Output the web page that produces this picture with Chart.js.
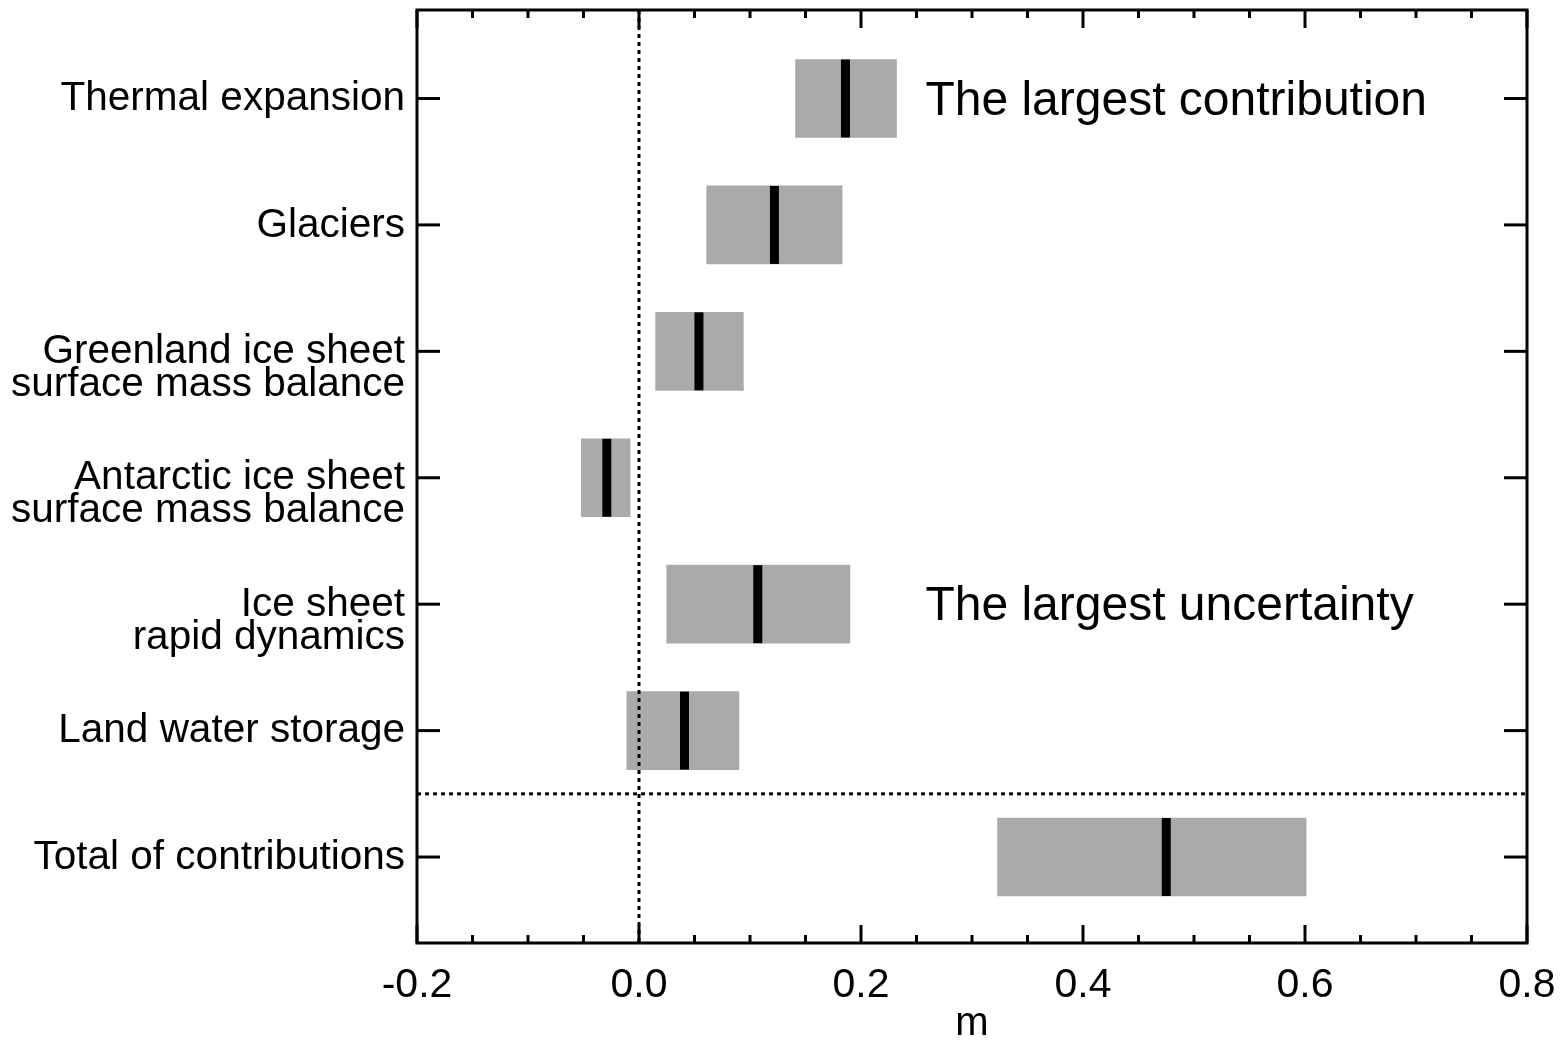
<!DOCTYPE html>
<html>
<head>
<meta charset="utf-8">
<script src="https://cdn.jsdelivr.net/npm/chart.js@4.4.1/dist/chart.umd.min.js"></script>
<style>
  html, body { margin: 0; padding: 0; background: #fff; }
  #wrap { width: 1568px; height: 1044px; }
</style>
</head>
<body>
<div id="wrap"><canvas id="c" width="1568" height="1044"></canvas></div>
<script>
// Contributions to sea-level rise (m): likely range and median per component
const categories = [
  ['Thermal expansion'],
  ['Glaciers'],
  ['Greenland ice sheet', 'surface mass balance'],
  ['Antarctic ice sheet', 'surface mass balance'],
  ['Ice sheet', 'rapid dynamics'],
  ['Land water storage'],
  ['Total of contributions']
];
const rowPositions = [1, 2, 3, 4, 5, 6, 7];
const lowValues    = [0.141, 0.061, 0.015, -0.052, 0.025, -0.011, 0.323];
const highValues   = [0.232, 0.183, 0.094, -0.008, 0.190,  0.090, 0.601];
const medianValues = [0.186, 0.122, 0.054, -0.029, 0.107,  0.041, 0.475];
const xTickValues  = [-0.2, 0.0, 0.2, 0.4, 0.6, 0.8];
const notes = [
  { text: 'The largest contribution', x: 0.258, row: 1 },
  { text: 'The largest uncertainty',  x: 0.258, row: 5 }
];
const totalSeparator = 6.5;

const FONT = '"Liberation Sans", Arial, Helvetica, sans-serif';

const rangeData  = rowPositions.map((r, i) => ({ x: [lowValues[i], highValues[i]], y: r }));
const medianData = rowPositions.map((r, i) => ({ x: medianValues[i], y: r }));

// Frame, inward tick marks, dotted reference lines and notes
const framePlugin = {
  id: 'frame',
  afterDatasetsDraw(chart) {
    const { ctx, chartArea: a, scales: { x, y } } = chart;
    const seg = (x1, y1, x2, y2) => { ctx.beginPath(); ctx.moveTo(x1, y1); ctx.lineTo(x2, y2); ctx.stroke(); };
    ctx.save();
    ctx.strokeStyle = '#000';
    ctx.lineWidth = 3;

    // dotted zero line and separator above the total
    ctx.setLineDash([4, 4]);
    const x0 = x.getPixelForValue(0);
    seg(x0, a.top, x0, a.bottom);
    const ys = y.getPixelForValue(totalSeparator);
    seg(a.left, ys, a.right, ys);
    ctx.setLineDash([]);

    // x ticks: major every 0.2, minor every 0.05, on bottom and top
    for (let k = 0; k <= 20; k++) {
      const v = x.min + k * 0.05;
      const px = x.getPixelForValue(v);
      const len = (k % 4 === 0) ? 18 : 8;
      seg(px, a.bottom, px, a.bottom - len);
      seg(px, a.top, px, a.top + len);
    }
    // y ticks on both sides
    y.ticks.forEach(t => {
      const py = y.getPixelForValue(t.value);
      seg(a.left, py, a.left + 23, py);
      seg(a.right, py, a.right - 23, py);
    });

    ctx.strokeRect(a.left, a.top, a.right - a.left, a.bottom - a.top);

    ctx.fillStyle = '#000';
    ctx.font = '48px ' + FONT;
    ctx.textBaseline = 'middle';
    ctx.textAlign = 'left';
    notes.forEach(n => ctx.fillText(n.text, x.getPixelForValue(n.x), y.getPixelForValue(n.row) + 3));
    ctx.restore();
  }
};

const noEdgePadding = s => { s.paddingLeft = 0; s.paddingRight = 0; s.paddingTop = 0; s.paddingBottom = 0; };

new Chart(document.getElementById('c'), {
  data: {
    datasets: [
      {
        type: 'bar',
        indexAxis: 'y',
        data: rangeData,
        backgroundColor: '#aaaaaa',
        borderWidth: 0,
        barThickness: 78,
        order: 2
      },
      {
        type: 'scatter',
        data: medianData,
        pointStyle: 'line',
        rotation: 90,
        pointRadius: 39,
        borderColor: '#000',
        borderWidth: 9,
        showLine: false,
        order: 1
      }
    ]
  },
  options: {
    responsive: false,
    devicePixelRatio: 1,
    animation: false,
    events: [],
    layout: { autoPadding: false, padding: { top: 10, right: 41, left: 0, bottom: 0 } },
    plugins: { legend: { display: false }, tooltip: { enabled: false } },
    scales: {
      x: {
        type: 'linear',
        position: 'bottom',
        min: -0.2,
        max: 0.8,
        offset: false,
        afterBuildTicks: s => { s.ticks = xTickValues.map(v => ({ value: v })); },
        afterFit: s => { s.height = 101; noEdgePadding(s); },
        grid: { display: false, drawTicks: false, offset: false },
        border: { display: false },
        ticks: {
          padding: 18,
          color: '#000',
          font: { family: FONT, size: 41, lineHeight: 1.2 },
          maxRotation: 0,
          callback: v => v.toFixed(1)
        },
        title: {
          display: true,
          text: 'm',
          color: '#000',
          font: { family: FONT, size: 40, lineHeight: 1 },
          padding: { top: 0, bottom: 0 }
        }
      },
      y: {
        type: 'linear',
        position: 'left',
        min: 0.3,
        max: 7.68,
        reverse: true,
        offset: false,
        afterBuildTicks: s => { s.ticks = rowPositions.map(v => ({ value: v })); },
        afterFit: s => { s.width = 417; noEdgePadding(s); },
        grid: { display: false, drawTicks: false, offset: false },
        border: { display: false },
        ticks: {
          padding: 12,
          labelOffset: 17,
          color: '#000',
          font: { family: FONT, size: 40.5, lineHeight: '33px' },
          callback: v => {
            const lines = categories[rowPositions.indexOf(v)] || [];
            return lines.length > 1 ? lines : [lines[0], ''];
          }
        }
      }
    }
  },
  plugins: [framePlugin]
});
</script>
</body>
</html>
